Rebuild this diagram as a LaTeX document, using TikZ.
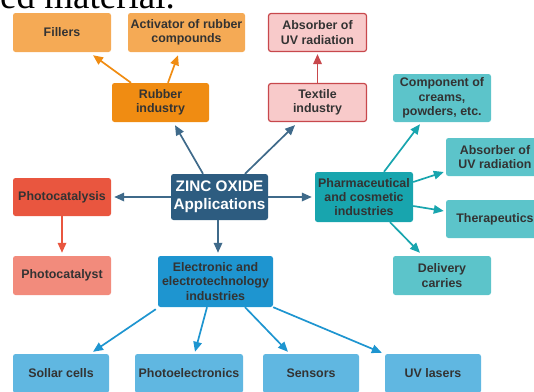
\documentclass[tikz,border=0pt]{standalone}
\usepackage{fontspec}
\setmainfont{Liberation Sans}
\newfontfamily\pagefont{Liberation Serif}
\usetikzlibrary{arrows.meta}

\definecolor{txtgray}{HTML}{333333}
\definecolor{orgLight}{HTML}{F5AA55}
\definecolor{orgDark}{HTML}{F08C12}
\definecolor{pinkFill}{HTML}{F8CACA}
\definecolor{redLine}{HTML}{C8484C}
\definecolor{redBox}{HTML}{E9563F}
\definecolor{salmon}{HTML}{F28B7C}
\definecolor{znoBlue}{HTML}{2D5C80}
\definecolor{arrBlue}{HTML}{3F6A8A}
\definecolor{elecBlue}{HTML}{1E95D0}
\definecolor{skyBlue}{HTML}{60B7E1}
\definecolor{tealDark}{HTML}{18A5AE}
\definecolor{tealLight}{HTML}{5CC4CA}

\begin{document}
\begin{tikzpicture}[x=1pt,y=1pt,yscale=-1,xscale=1,
  box/.style={rounded corners=2.5pt, align=center, inner sep=0pt, text=txtgray,
    font=\fontsize{12.4}{14.3}\selectfont\bfseries},
  conn/.style={line width=1.7pt, -{Triangle[length=10pt,width=8.5pt]}}]

\path[use as bounding box, clip] (0,0) rectangle (534,391);

% text of the page above the figure
\node[anchor=base east, inner sep=0pt, font=\pagefont\fontsize{37}{37}\selectfont] (pagetext) at (175,8) {ed material.};

% rubber branch
\node[box, fill=orgLight, minimum width=98, minimum height=39] (fillers) at (62,32.5) {Fillers};
\node[box, fill=orgLight, minimum width=117, minimum height=39] (activator) at (186.5,32.5) {Activator of rubber\\compounds};
\node[box, fill=orgDark, minimum width=97, minimum height=39] (rubber) at (160.5,102.5) {Rubber\\industry};

% textile branch
\node[box, fill=pinkFill, draw=redLine, line width=1.2pt, minimum width=98, minimum height=38] (uvtextile) at (317.5,32.5) {Absorber of\\UV radiation};
\node[box, fill=pinkFill, draw=redLine, line width=1.2pt, minimum width=98, minimum height=38] (textile) at (317.5,102.5) {Textile\\industry};

% centre
\node[box, fill=znoBlue, text=white, minimum width=97, minimum height=46,
  font=\fontsize{15.3}{18}\selectfont\bfseries] (zno) at (219.5,197) {ZINC OXIDE\\Applications};

% photocatalysis branch
\node[box, fill=redBox, minimum width=98, minimum height=38] (photocat) at (62,197) {Photocatalysis};
\node[box, fill=salmon, minimum width=98, minimum height=39] (photocatalyst) at (62,275.5) {Photocatalyst};

% pharmaceutical branch
\node[box, fill=tealDark, minimum width=98, minimum height=50] (pharma) at (364,197) {Pharmaceutical\\and cosmetic\\industries};
\node[box, fill=tealLight, minimum width=98, minimum height=48] (creams) at (442,98) {Component of\\creams,\\powders, etc.};
\node[box, fill=tealLight, minimum width=98, minimum height=38] (uvpharma) at (495,157) {Absorber of\\UV radiation};
\node[box, fill=tealLight, minimum width=98, minimum height=38] (thera) at (495,219) {Therapeutics};
\node[box, fill=tealLight, minimum width=98, minimum height=39] (delivery) at (442,275.5) {Delivery\\carries};

% electronic branch
\node[box, fill=elecBlue, minimum width=115, minimum height=51] (elec) at (215.5,281.5) {Electronic and\\electrotechnology\\industries};
\node[box, fill=skyBlue, minimum width=96, minimum height=39] (solar) at (61,373.5) {Sollar cells};
\node[box, fill=skyBlue, minimum width=108, minimum height=39] (photoel) at (189,373.5) {Photoelectronics};
\node[box, fill=skyBlue, minimum width=96, minimum height=39] (sensors) at (311,373.5) {Sensors};
\node[box, fill=skyBlue, minimum width=96, minimum height=39] (uvlaser) at (433,373.5) {UV lasers};

% connectors (yshift runs downwards here)
\draw[conn, orgDark] ([xshift=-29.5pt]rubber.north) -- ([xshift=31pt,yshift=3pt]fillers.south);
\draw[conn, orgDark] ([xshift=7.5pt]rubber.north) -- ([xshift=-8.5pt,yshift=3pt]activator.south);
\draw[conn, redLine] (textile.north) -- ([yshift=2pt]uvtextile.south);

\draw[conn, arrBlue] ([xshift=-16.5pt]zno.north) -- ([xshift=14.5pt,yshift=3pt]rubber.south);
\draw[conn, arrBlue] ([xshift=25.5pt]zno.north) -- ([xshift=-22.5pt,yshift=3pt]textile.south);
\draw[conn, arrBlue] (zno.west) -- ([xshift=3pt]photocat.east);
\draw[conn, arrBlue] (zno.east) -- ([xshift=-3pt]pharma.west);
\draw[conn, arrBlue] ([xshift=-1.5pt]zno.south) -- ([xshift=-1.5pt,yshift=-3pt]zno.south |- elec.north);

\draw[conn, redBox] (photocat.south) -- ([yshift=-3pt]photocatalyst.north);

\draw[conn, tealDark] ([xshift=20pt]pharma.north) -- ([xshift=-22pt,yshift=2pt]creams.south);
\draw[conn, tealDark] ([yshift=-15pt]pharma.east) -- ([xshift=-2pt,yshift=15pt]uvpharma.west);
\draw[conn, tealDark] ([yshift=9pt]pharma.east) -- ([xshift=-2pt,yshift=-8pt]thera.west);
\draw[conn, tealDark] ([xshift=26pt]pharma.south) -- ([xshift=-22pt,yshift=-3pt]delivery.north);

\draw[conn, elecBlue] ([xshift=-2pt,yshift=2pt]elec.south west) -- ([xshift=32pt,yshift=-2pt]solar.north);
\draw[conn, elecBlue] ([xshift=-8.5pt]elec.south) -- ([xshift=6pt,yshift=-2pt]photoel.north);
\draw[conn, elecBlue] ([xshift=29.5pt]elec.south) -- ([xshift=-23pt,yshift=-2pt]sensors.north);
\draw[conn, elecBlue] (elec.south east) -- ([xshift=-3pt,yshift=-1pt]uvlaser.north west);

\end{tikzpicture}
\end{document}
